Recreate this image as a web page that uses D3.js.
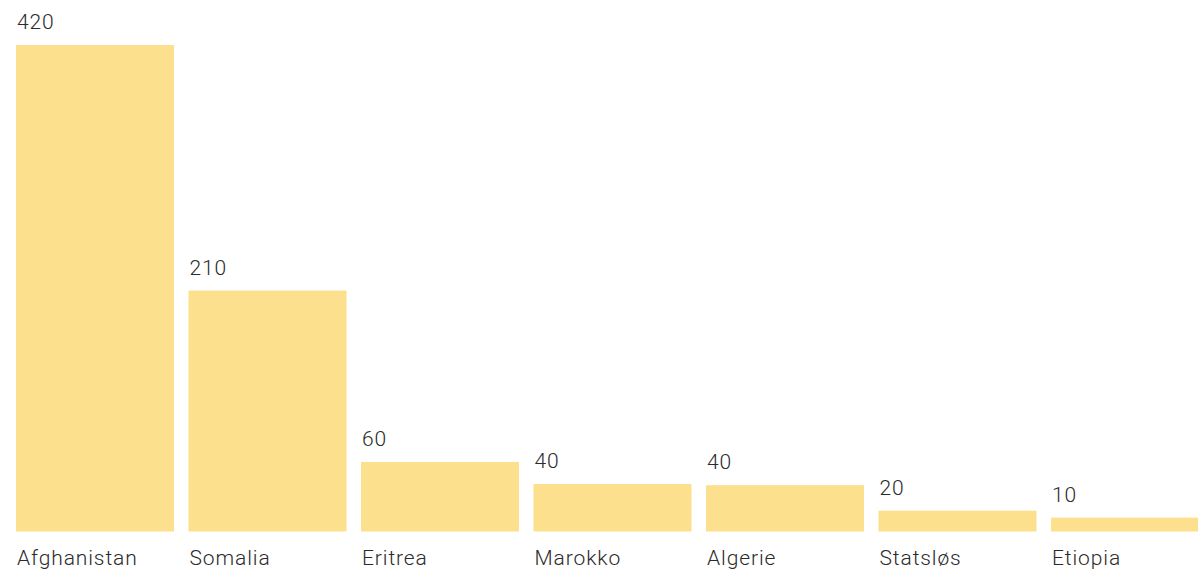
<!DOCTYPE html>
<html>
<head>
<meta charset="utf-8">
<script src="https://cdn.jsdelivr.net/npm/d3@7"></script>
<style>
  body { margin: 0; background: #fff; }
  text { font-family: Roboto, sans-serif; font-weight: 300; fill: #2b2b2b; letter-spacing: 0.9px; }
</style>
</head>
<body>
<div id="chart"></div>
<script>
// Data
var countries = ["Afghanistan", "Somalia", "Eritrea", "Marokko", "Algerie", "Statsløs", "Etiopia"];
var values = [420, 208, 60, 41, 40, 18, 12];

var svgWidth = 1198;
var svgHeight = 572;

var svg = d3.select("#chart")
            .append("svg")
            .attr("width", svgWidth)
            .attr("height", svgHeight);

var xScale = d3.scaleBand()
    .domain(countries)
    .range([16, 1209])
    .paddingInner(0.084)
    .paddingOuter(0);

var yScale = d3.scaleLinear()
    .domain([0, 420])
    .range([531.5, 45]);

var data = countries.map((c, i) => ({ country: c, value: values[i] }));

// bars
svg.selectAll("rect")
   .data(data)
   .enter()
   .append("rect")
   .attr("x", d => xScale(d.country))
   .attr("y", d => yScale(d.value))
   .attr("width", xScale.bandwidth())
   .attr("height", d => yScale(0) - yScale(d.value))
   .attr("fill", "#fde08e");

// value labels (rounded to tens)
svg.selectAll(".value")
   .data(data)
   .enter()
   .append("text")
   .attr("class", "value")
   .attr("x", d => xScale(d.country) + 1)
   .attr("y", d => yScale(d.value) - 16)
   .style("font-size", "21px")
   .text(d => Math.round(d.value / 10) * 10);

// category labels
svg.selectAll(".cat")
   .data(data)
   .enter()
   .append("text")
   .attr("class", "cat")
   .attr("x", d => xScale(d.country) + 1)
   .attr("y", 565)
   .style("font-size", "21px")
   .text(d => d.country);
</script>
</body>
</html>
